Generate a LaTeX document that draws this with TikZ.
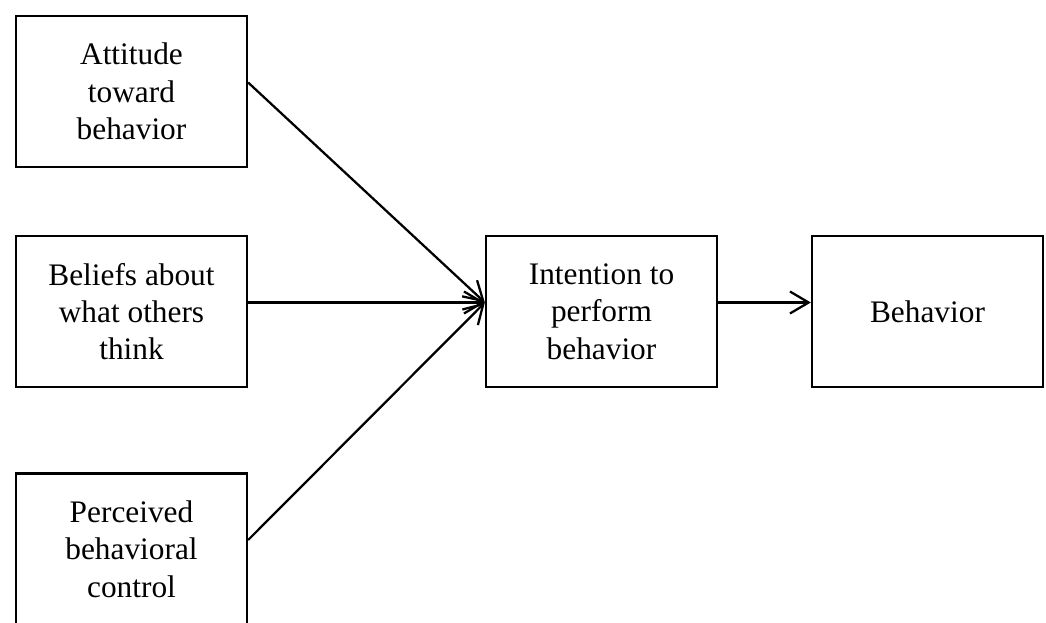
\documentclass[tikz,border=0pt]{standalone}
\usepackage{fontspec}
\setmainfont{Liberation Serif}
\usetikzlibrary{arrows.meta}
\usetikzlibrary{positioning}

\tikzset{
  factor/.style={draw, line width=1.7pt, minimum width=173.25pt, minimum height=113.25pt,
    inner sep=0pt, align=center, font=\fontsize{23.5}{28}\selectfont},
  link/.style={line width=1.7pt, -{Straight Barb[length=14pt,width=16.5pt,line width=1.7pt]}},
}

\begin{document}
\begin{tikzpicture}[x=0.75pt,y=-0.75pt]
\useasboundingbox (0,0) rectangle (1046,623);

\node [factor] (att) at (131.5,91.5) {Attitude\\toward\\behavior};
\node [factor] (bel) at (131.5,311.5) {Beliefs about\\what others\\think};
\node [factor] (pbc) at (131.5,549) {Perceived\\behavioral\\control};
\node [factor] (int) at (601.5,311.5) {Intention to\\perform\\behavior};
\node [factor] (beh) at (927.5,311.5) {Behavior};

\draw [link] ([yshift=6.75pt]att.east) -- ([yshift=6.75pt]int.west);
\draw [link] ([yshift=6.75pt]bel.east) -- ([yshift=6.75pt]int.west);
\draw [link] ([yshift=6.75pt]pbc.east) -- ([yshift=6.75pt]int.west);
\draw [link] ([yshift=6.75pt]int.east) -- ([yshift=6.75pt]beh.west);
\end{tikzpicture}
\end{document}
